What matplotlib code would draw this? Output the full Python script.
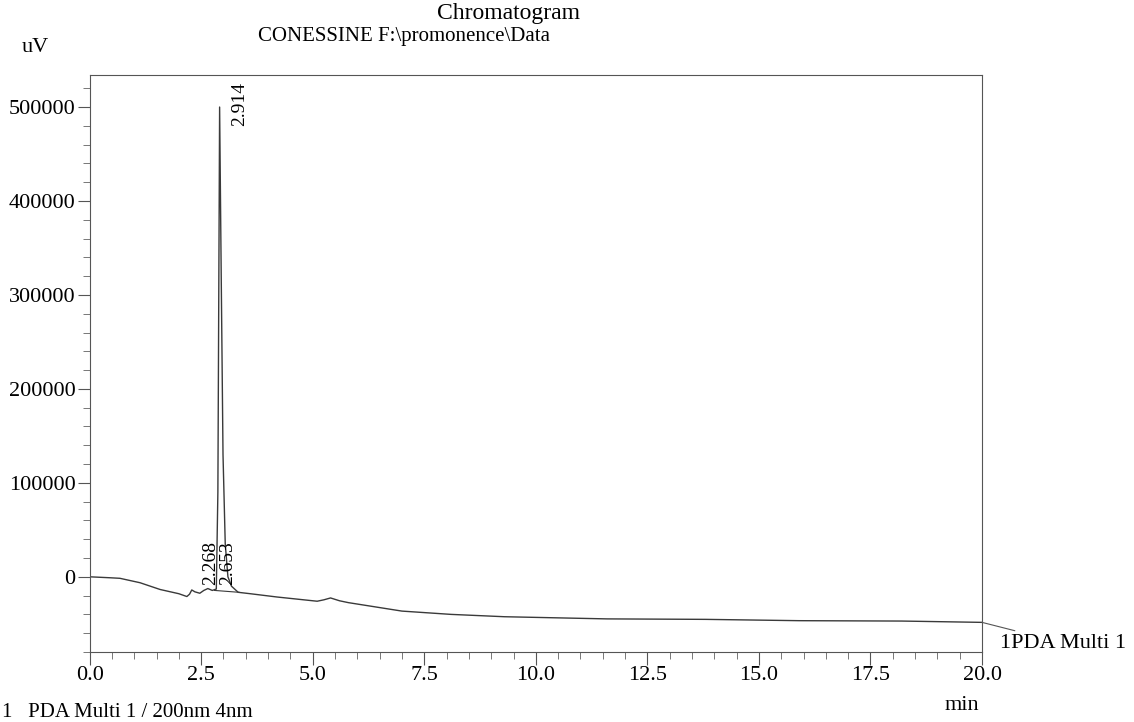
import numpy as np
import matplotlib
matplotlib.use("Agg")
import matplotlib.pyplot as plt
from matplotlib.ticker import MultipleLocator

plt.rcParams['font.family'] = ['Liberation Serif', 'DejaVu Serif']

# retention time (min) and detector signal (uV)
time = [0.0, 0.45, 0.68, 1.13, 1.58, 2.0, 2.18, 2.24, 2.29, 2.36, 2.47, 2.56,
        2.65, 2.75, 2.84, 2.875, 2.914, 2.95, 2.99, 3.04, 3.10, 3.18, 3.33,
        3.6, 4.2, 5.1, 5.25, 5.4, 5.6, 5.8, 6.4, 7.0, 8.1, 9.3, 11.6, 13.8,
        15.9, 18.2, 20.0]
signal = [0, -1000, -1600, -6300, -13500, -18000, -21000, -18500, -14000,
          -16000, -17500, -14500, -12500, -14500, -13000, 90000, 500000,
          320000, 130000, 35000, 0, -10000, -16500, -18000, -21500, -26000,
          -24500, -22500, -25500, -27500, -32000, -36500, -40000, -42500,
          -44800, -45300, -46700, -47100, -48500]

peak_rt = [2.268, 2.653, 2.914]
peak_lbl = ["2.268", "2.653", "2.914"]
peak_txt_y = [-9000, -9000, 527000]
peak_txt_va = ["bottom", "bottom", "top"]

# integration baseline under the main peak
base_t = [2.80, 3.35]
base_v = [-14500, -16500]

fig = plt.figure(figsize=(11.34, 7.22), dpi=100)
ax = fig.add_axes([0.079, 0.097, 0.787, 0.799])

ax.plot(time, signal, color="#3a3a3a", lw=1.0)
ax.plot(base_t, base_v, color="#3a3a3a", lw=0.8)

for rt, lbl, ty, va in zip(peak_rt, peak_lbl, peak_txt_y, peak_txt_va):
    ax.text(rt + 0.26, ty, lbl, rotation=90, ha="left", va=va, fontsize=14)

ax.set_xlim(0, 20)
ax.set_ylim(-80000, 534000)
ax.xaxis.set_minor_locator(MultipleLocator(0.5))
ax.yaxis.set_minor_locator(MultipleLocator(20000))
ax.set_xticks([0, 2.5, 5, 7.5, 10, 12.5, 15, 17.5, 20])
ax.set_xticklabels(["0.0", "2.5", "5.0", "7.5", "10.0", "12.5", "15.0",
                    "17.5", "20.0"])
ax.set_yticks([0, 100000, 200000, 300000, 400000, 500000])
ax.set_yticklabels(["0", "100000", "200000", "300000", "400000", "500000"])
ax.tick_params(which="major", length=9, width=0.8, color="#555555",
               labelsize=16, pad=1)
ax.tick_params(which="minor", length=5, width=0.7, color="#777777")
for s in ax.spines.values():
    s.set_color("#555555")
    s.set_linewidth(0.8)

# end-of-trace channel label
ax.annotate("1PDA Multi 1", xy=(20.0, signal[-1]), xycoords="data",
            xytext=(1000 / 1134, 1 - 643 / 722), textcoords="figure fraction",
            ha="left", va="center", fontsize=16,
            arrowprops=dict(arrowstyle="-", color="#555555", lw=0.8,
                            shrinkA=0, shrinkB=0),
            annotation_clip=False)

fig.text(508 / 1134, 1 - 14 / 722, "Chromatogram", ha="center", va="center",
         fontsize=17)
fig.text(258 / 1134, 1 - 37 / 722, "CONESSINE F:\\promonence\\Data",
         ha="left", va="center", fontsize=15)
fig.text(22 / 1134, 1 - 48 / 722, "uV", ha="left", va="center", fontsize=16)
fig.text(962 / 1134, 1 - 705 / 722, "min", ha="center", va="center",
         fontsize=16)
fig.text(2 / 1134, 1 - 703 / 722, "1   PDA Multi 1 / 200nm 4nm", ha="left",
         va="top", fontsize=15)

fig.savefig("out.png", dpi=100)
